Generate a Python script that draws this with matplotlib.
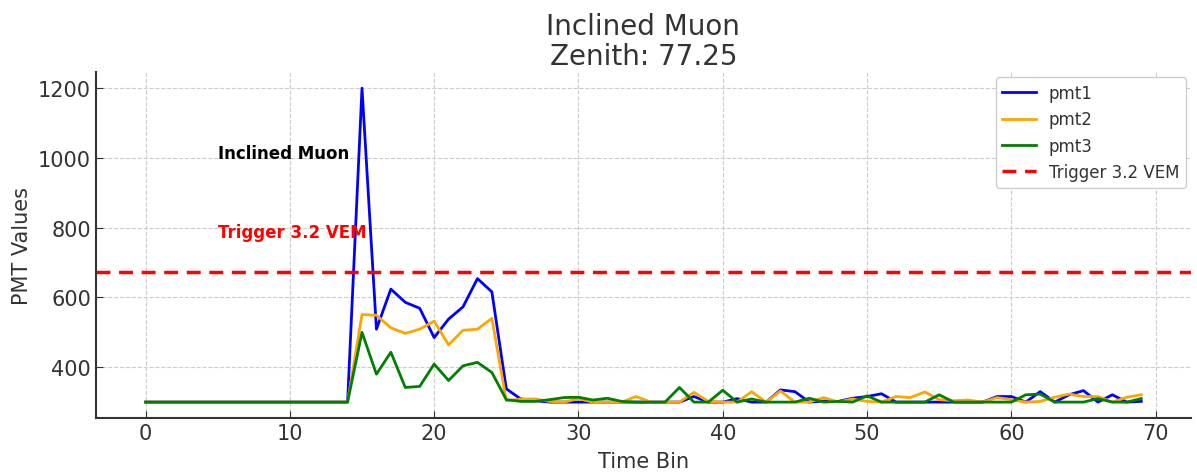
import numpy as np
import matplotlib
matplotlib.use("Agg")
import matplotlib.pyplot as plt

time_bins = np.arange(70)

pmt1 = [300] * 15 + [
    1200, 509, 624, 586, 569, 485, 538, 573, 654, 616,
    338, 309, 304, 300, 300, 300, 300, 300, 300, 300,
    300, 300, 300, 316, 300, 300, 310, 300, 300, 335,
    330, 300, 303, 302, 311, 316, 324, 300, 300, 300,
    300, 300, 300, 300, 316, 316, 300, 330, 300, 321,
    333, 300, 321, 300, 302,
]
pmt2 = [300] * 15 + [
    551, 549, 513, 497, 509, 532, 464, 506, 509, 540,
    304, 309, 309, 302, 300, 310, 300, 300, 300, 316,
    300, 300, 300, 328, 302, 300, 300, 330, 300, 332,
    300, 300, 313, 300, 309, 302, 300, 316, 313, 329,
    307, 304, 306, 300, 313, 307, 300, 302, 314, 323,
    316, 316, 300, 314, 321,
]
pmt3 = [300] * 15 + [
    500, 380, 443, 342, 345, 409, 362, 404, 414, 385,
    307, 302, 302, 307, 313, 314, 306, 311, 302, 300,
    300, 300, 342, 300, 300, 334, 300, 309, 300, 300,
    300, 311, 300, 302, 300, 318, 300, 300, 300, 300,
    321, 300, 300, 300, 300, 300, 321, 323, 300, 300,
    300, 310, 300, 300, 310,
]

TRIGGER = 672
TEXT_GREY = "#333333"

fig, ax = plt.subplots(figsize=(11.97, 4.77), dpi=100)

ax.plot(time_bins, pmt1, color="blue", lw=2, label="pmt1")
ax.plot(time_bins, pmt2, color="orange", lw=2, label="pmt2")
ax.plot(time_bins, pmt3, color="green", lw=2, label="pmt3")
ax.axhline(TRIGGER, color="red", lw=2.5, ls=(0, (4, 2.5)), label="Trigger 3.2 VEM")

ax.text(5, 1000, "Inclined Muon", fontsize=12, fontweight="bold", color="black")
ax.text(5, 772, "Trigger 3.2 VEM", fontsize=12, fontweight="bold", color="red")

ax.set_title("Inclined Muon\nZenith: 77.25", fontsize=20, color=TEXT_GREY, linespacing=1.1)
ax.set_xlabel("Time Bin", fontsize=15, color=TEXT_GREY, labelpad=6)
ax.set_ylabel("PMT Values", fontsize=15, color=TEXT_GREY)
ax.set_yticks([400, 600, 800, 1000, 1200])

ax.grid(True, ls="--", color="#cccccc", lw=0.8)
ax.set_axisbelow(True)
for side in ["top", "right"]:
    ax.spines[side].set_visible(False)
for side in ["left", "bottom"]:
    ax.spines[side].set_color(TEXT_GREY)
    ax.spines[side].set_linewidth(1.5)
ax.tick_params(direction="in", labelsize=15, colors=TEXT_GREY, length=5)

leg = ax.legend(loc="upper right", fontsize=12, framealpha=1, edgecolor="#cccccc",
                borderaxespad=0.3)
for t in leg.get_texts():
    t.set_color(TEXT_GREY)

fig.subplots_adjust(left=0.08, right=0.995, bottom=0.122, top=0.846)
fig.savefig("out.png", dpi=100)
